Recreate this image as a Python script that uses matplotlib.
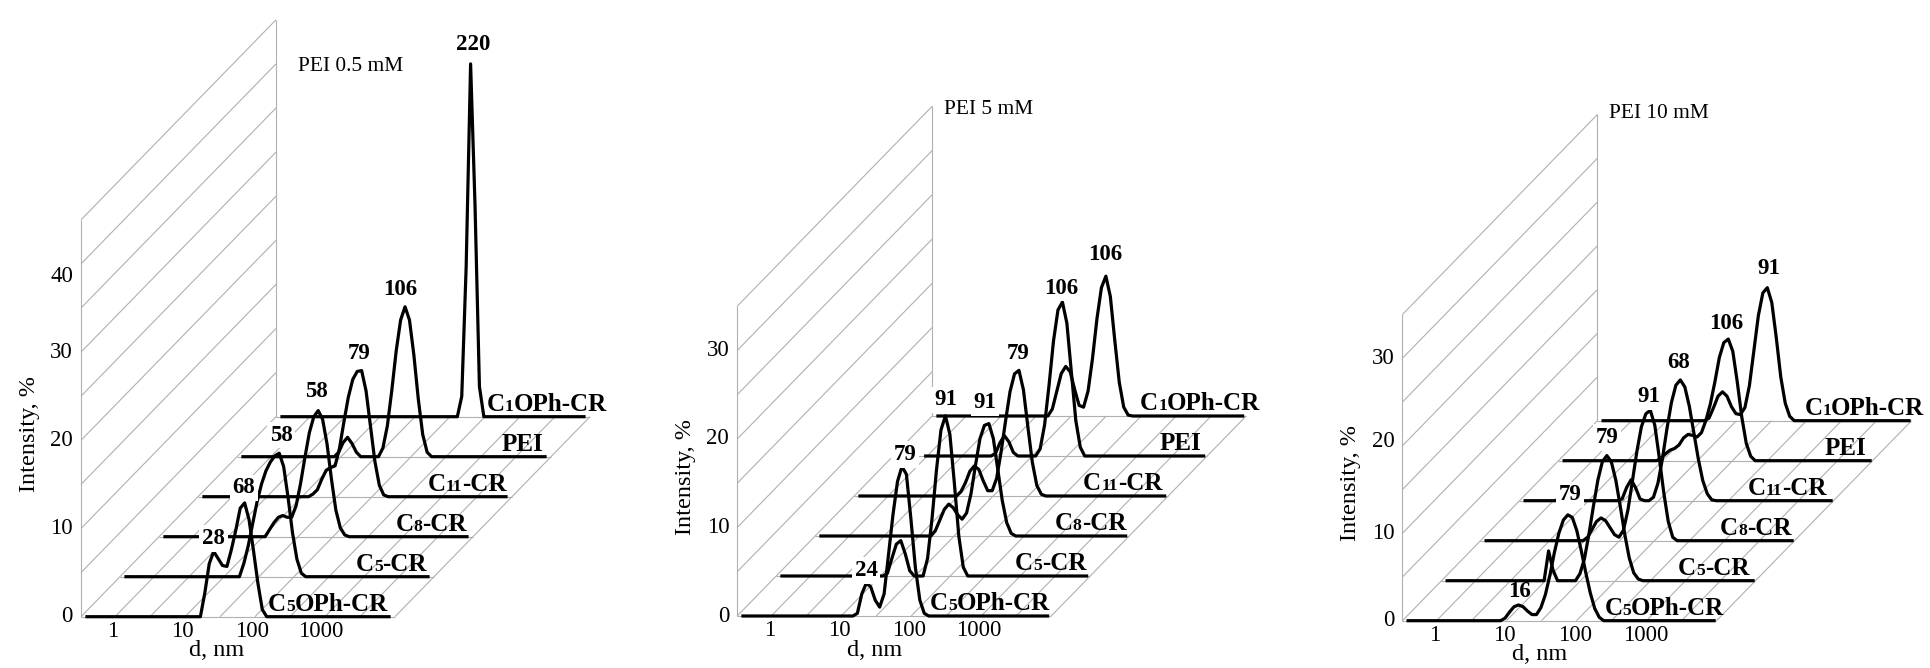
import numpy as np
import matplotlib
matplotlib.use("Agg")
import matplotlib.pyplot as plt
from matplotlib.transforms import offset_copy
from matplotlib.offsetbox import TextArea, HPacker, AnnotationBbox

plt.rcParams['font.family'] = ['Liberation Serif', 'DejaVu Serif']

# ---------------- data ----------------
# size classes (nm) of the distribution (categories of the x axis)
SIZES_NM = [0.4, 0.4632, 0.5365, 0.6213, 0.7195, 0.8332, 0.9649, 1.117, 1.294, 1.499,
            1.736, 2.010, 2.328, 2.696, 3.122, 3.615, 4.187, 4.849, 5.615, 6.503,
            7.531, 8.721, 10.10, 11.70, 13.54, 15.69, 18.17, 21.04, 24.36, 28.21,
            32.67, 37.84, 43.82, 50.75, 58.77, 68.06, 78.82, 91.28, 105.7, 122.4,
            141.8, 164.2, 190.1, 220.2, 255.0, 295.3, 342.0, 396.1, 458.7, 531.2,
            615.1, 712.4, 825.0, 955.4, 1106, 1281, 1484, 1718, 1990, 2305,
            2669, 3091, 3580, 4145, 4801, 5560, 6439, 7456, 8635, 10000]

SERIES = ['C5OPh-CR', 'C5-CR', 'C8-CR', 'C11-CR', 'PEI', 'C1OPh-CR']
# series names split into (text, is_small_digit) pieces
SERIES_PARTS = [[('C', False), ('5', True), ('OPh-CR', False)],
                [('C', False), ('5', True), ('-CR', False)],
                [('C', False), ('8', True), ('-CR', False)],
                [('C', False), ('11', True), ('-CR', False)],
                [('PEI', False)],
                [('C', False), ('1', True), ('OPh-CR', False)]]
PANEL_TITLES = ['PEI 0.5 mM', 'PEI 5 mM', 'PEI 10 mM']
Y_MAX = [45, 35, 35]
Y_TICKS = [[0, 10, 20, 30, 40], [0, 10, 20, 30], [0, 10, 20, 30]]
X_TICKS = [1, 10, 100, 1000]
X_TICK_LABELS = ['1', '10', '100', '1000']
X_TITLE = 'd, nm'
Y_TITLE = 'Intensity, %'

# intensity (%) per size class; each list begins at the class given in *_START
# ---- PEI 0.5 mM
P1_FIRST = [0.4, 0.4, 0.4, 0.4, 0.4, 0.4]
P1_START = [18.17, 18.17, 11.70, 13.54, 8.721, 141.8]
P1_C5OPH = [0, 2.7, 6.0, 7.4, 6.6, 5.8, 5.7, 7.6, 9.8, 12.3, 12.9, 11.0, 7.5, 3.8, 0.8, 0]
P1_C5 = [0, 1.5, 3.5, 6.0, 8.5, 10.5, 12.0, 13.0, 13.7, 14.0, 12.5, 9.0, 5.0, 2.0, 0.4, 0]
P1_C8 = [0, 0.8, 1.6, 2.2, 2.4, 2.2, 2.2, 3.5, 6.0, 9.0, 11.8, 13.6, 14.3, 13.3, 10.5, 6.5,
         3.0, 1.0, 0.2, 0]
P1_C11 = [0, 0.3, 0.8, 2.0, 3.0, 3.3, 3.5, 5.5, 8.5, 11.3, 13.3, 14.2, 14.3, 12.0, 8.0, 4.0,
          1.3, 0.2, 0]
P1_PEI = [0, 0.5, 1.6, 2.2, 1.5, 0.5, 0, 0, 0, 0, 0, 1.0, 3.5, 7.5, 12.0, 15.5, 17.0, 15.5,
          11.5, 6.5, 2.5, 0.5, 0]
P1_C1OPH = [0, 2.3, 17.0, 40.0, 24.0, 3.4, 0]
P1_PEAKS = [('28', 0, 28.21), ('68', 0, 78.82), ('58', 1, 68.06), ('58', 2, 68.06),
            ('79', 3, 78.82), ('106', 4, 91.28), ('220', 5, 220.2)]

# ---- PEI 5 mM
P2_FIRST = [0.4, 0.4, 0.4, 0.4, 0.9649, 0.4]
P2_START = [15.69, 11.70, 15.69, 10.10, 8.721, 15.69]
P2_C5OPH = [0, 0.3, 2.5, 3.7, 3.3, 1.8, 1.0, 2.5, 7.0, 11.5, 15.2, 16.9, 16.0, 11.0, 5.5,
            1.8, 0.3, 0]
P2_C5 = [0, 0.3, 2.0, 3.6, 4.0, 2.5, 0.6, 0, 0, 0, 2.0, 6.5, 12.0, 16.5, 18.1, 16.0, 10.5,
         4.5, 1.0, 0]
P2_C8 = [0, 0.6, 1.8, 3.0, 3.6, 3.2, 2.4, 1.9, 2.6, 4.8, 8.0, 11.0, 12.5, 12.7, 11.0, 7.5,
         4.0, 1.5, 0.3, 0]
P2_C11 = [0, 0.5, 1.5, 2.8, 3.4, 3.0, 1.7, 0.6, 0.6, 2.0, 5.0, 8.5, 11.8, 13.8, 14.2, 12.0,
          7.8, 3.8, 1.2, 0.2, 0]
P2_PEI = [0, 0.3, 1.5, 2.3, 1.6, 0.4, 0, 0, 0, 0, 0, 0.8, 3.5, 8.0, 13.0, 16.5, 17.4, 15.0,
          9.5, 4.0, 1.0, 0]
P2_C1OPH = [0, 0.8, 2.8, 4.8, 5.6, 5.0, 3.0, 1.2, 1.0, 2.8, 6.5, 11.0, 14.5, 15.8, 13.5,
            8.5, 3.8, 1.0, 0.1, 0]
P2_PEAKS = [('24', 0, 24.36), ('79', 0, 78.82), ('91', 1, 91.28), ('91', 2, 105.7),
            ('79', 3, 78.82), ('106', 4, 91.28), ('106', 5, 105.7)]

# ---- PEI 10 mM
P3_FIRST = [0.4, 0.4, 0.4, 0.4, 0.4, 0.4]
P3_START = [8.721, 10.10, 10.10, 8.721, 8.721, 11.70]
P3_C5OPH = [0, 0.3, 1.0, 1.6, 1.8, 1.6, 1.1, 0.7, 0.7, 1.5, 3.0, 5.2, 7.8, 10.0, 11.5, 12.1,
            11.8, 10.3, 8.0, 5.5, 3.2, 1.4, 0.4, 0]
P3_C5 = [0, 3.4, 1.2, 0, 0, 0, 0, 0, 0.8, 2.5, 5.3, 8.5, 11.5, 13.6, 14.3, 13.6, 11.5, 8.5,
         5.3, 2.6, 0.9, 0.2, 0]
P3_C8 = [0, 0.4, 1.3, 2.2, 2.6, 2.3, 1.5, 0.7, 0.4, 1.2, 3.5, 6.8, 10.2, 13.0, 14.5, 14.9,
         13.2, 9.5, 5.5, 2.2, 0.4, 0]
P3_C11 = [0, 0.2, 1.5, 2.4, 1.5, 0.2, 0, 0, 0.4, 2.0, 4.8, 8.2, 11.2, 13.2, 13.8, 13.0, 10.8,
          7.8, 4.8, 2.3, 0.8, 0.1, 0]
P3_PEI = [0, 0.3, 0.8, 1.2, 1.4, 1.8, 2.6, 3.0, 2.9, 2.7, 3.2, 4.6, 6.5, 9.0, 11.8, 13.5,
          13.9, 12.5, 9.0, 5.0, 2.0, 0.5, 0]
P3_C1OPH = [0, 0.3, 1.5, 2.8, 3.3, 2.8, 1.6, 0.8, 0.7, 1.5, 4.0, 8.0, 12.0, 14.6, 15.2, 13.5,
            9.5, 5.0, 2.0, 0.5, 0]
P3_PEAKS = [('16', 0, 15.69), ('79', 0, 78.82), ('79', 1, 78.82), ('91', 2, 91.28),
            ('68', 3, 68.06), ('106', 4, 91.28), ('91', 5, 91.28)]

PANEL_DATA = [
    (P1_FIRST, P1_START, [P1_C5OPH, P1_C5, P1_C8, P1_C11, P1_PEI, P1_C1OPH], P1_PEAKS),
    (P2_FIRST, P2_START, [P2_C5OPH, P2_C5, P2_C8, P2_C11, P2_PEI, P2_C1OPH], P2_PEAKS),
    (P3_FIRST, P3_START, [P3_C5OPH, P3_C5, P3_C8, P3_C11, P3_PEI, P3_C1OPH], P3_PEAKS),
]

# ---------------- layout (pixels) ----------------
W, H = 1931, 668
DX_PX, DY_PX = 39.0, 40.0          # shift per series row (depth)
WALL_PX, EDGE_PX, GRID_PX = -32.0, 282.0, 35.0
LAYOUT = [
    dict(xl=0, xr=640, X0=113.0, Y0=616.7, PPD=69.4, PPU=8.82,
         name_dx=[-7, -7, -6, -5, -8, 17], title_off=(22, -47),
         ytick_dy={40: -13},
         peak_off=[(0, 13), (-1, 15), (2, 18), (-2, 19), (-2, 17), (-5, 17), (3, 19)],
         peak_box=[True] * 7),
    dict(xl=640, xr=1300, X0=769.2, Y0=616.0, PPD=70.0, PPU=8.85,
         name_dx=[-1, -4, -3, -6, -6, 14], title_off=(12, -3),
         ytick_dy={},
         peak_off=[(0, 13), (3, 12), (0, 16), (-4, 21), (-1, 17), (-1, 14), (-1, 22)],
         peak_box=[True] * 7),
    dict(xl=1300, xr=1931, X0=1434.5, Y0=620.7, PPD=70.3, PPU=8.75,
         name_dx=[8, -6, -3, -7, -6, 13], title_off=(12, 1),
         ytick_dy={20: 4},
         peak_off=[(1, 13), (2, 20), (0, 18), (-2, 14), (-2, 17), (-2, 16), (1, 19)],
         peak_box=[False, True, True, True, True, True, True]),
]

GRAY = '#b0b0b0'
NAME_FS, NAME_SMALL_FS = 18, 12.6
fig = plt.figure(figsize=(W / 100, H / 100), dpi=100)
sizes_arr = np.array(SIZES_NM)


def draw_panel(p):
    L = LAYOUT[p]
    first, start, series, peaks = PANEL_DATA[p]
    ax = fig.add_axes([L['xl'] / W, 0, (L['xr'] - L['xl']) / W, 1])
    ax.set_xscale('log')
    ax.set_xlim(10 ** ((L['xl'] - L['X0']) / L['PPD']), 10 ** ((L['xr'] - L['X0']) / L['PPD']))
    ax.set_ylim((L['Y0'] - H) / L['PPU'], L['Y0'] / L['PPU'])
    ax.axis('off')

    def dep(d, v, k):
        return (np.asarray(d) * 10 ** (k * DX_PX / L['PPD']),
                np.asarray(v) + k * DY_PX / L['PPU'])

    def off(dx, dy):
        return offset_copy(ax.transData, fig=fig, x=dx, y=dy, units='dots')

    xw = 10 ** (WALL_PX / L['PPD'])
    xe = 10 ** (EDGE_PX / L['PPD'])
    ymax = Y_MAX[p]
    g = dict(color=GRAY, lw=0.8, zorder=1, solid_capstyle='butt')

    # side wall
    for v in range(0, ymax + 1, 5):
        a, b = dep(xw, v, 0), dep(xw, v, 5)
        ax.plot([a[0], b[0]], [a[1], b[1]], **g)
    ax.plot([xw, xw], [0, ymax], **g)
    bx, by = dep(xw, 0, 5)
    ax.plot([bx, bx], [by, by + ymax], **g)
    # floor
    for k in range(6):
        a, b = dep(xw, 0, k), dep(xe, 0, k)
        ax.plot([a[0], b[0]], [a[1], b[1]], **g)
    for j in range(9):
        xg = 10 ** ((EDGE_PX - j * GRID_PX) / L['PPD'])
        a, b = dep(xg, 0, 0), dep(xg, 0, 5)
        ax.plot([a[0], b[0]], [a[1], b[1]], **g)

    # series
    full_vals = []
    for k, vals in enumerate(series):
        full = np.zeros(len(SIZES_NM))
        i0 = SIZES_NM.index(start[k])
        full[i0:i0 + len(vals)] = vals
        full_vals.append(full)
        i_first = SIZES_NM.index(first[k])
        xs, ys = dep(sizes_arr[i_first:], full[i_first:], k)
        ax.plot(xs, ys, color='black', lw=2.3, solid_joinstyle='round',
                solid_capstyle='butt', zorder=3)
        # series name at the right end of its row
        kids = [TextArea(s, textprops=dict(fontsize=NAME_SMALL_FS if small else NAME_FS,
                                           fontweight='bold', color='black'))
                for s, small in SERIES_PARTS[k]]
        pack = HPacker(children=kids, align='baseline', pad=0, sep=0)
        nx, ny = dep(xe, 0, k)
        ab = AnnotationBbox(pack, (float(nx), float(ny)), xycoords='data',
                            xybox=(L['name_dx'][k] * 0.72, 0.5 * 0.72),
                            boxcoords='offset points', box_alignment=(1, 0),
                            frameon=False, pad=0, annotation_clip=False, zorder=4)
        ax.add_artist(ab)

    # peak labels
    for (txt, k, d), (dx, dy), boxed in zip(peaks, L['peak_off'], L['peak_box']):
        v = full_vals[k][SIZES_NM.index(d)]
        px, py = dep(d, v, k)
        kw = dict(bbox=dict(facecolor='white', edgecolor='none', pad=2.0)) if boxed else {}
        ax.text(px, py, txt, transform=off(dx, dy), ha='center', va='center',
                fontsize=16.5, fontweight='bold', zorder=6, **kw)

    # axis texts
    for v in Y_TICKS[p]:
        ax.text(xw, v, str(v), transform=off(-8, L['ytick_dy'].get(v, 0)),
                ha='right', va='center', fontsize=16.5)
    for d, t in zip(X_TICKS, X_TICK_LABELS):
        ax.text(d, 0, t, transform=off(0, -15), ha='center', va='center', fontsize=16.5)
    ax.text(31.6, 0, X_TITLE, transform=off(0, -34), ha='center', va='center', fontsize=17.5)
    ax.text(xw, ymax / 2 - 1.8, Y_TITLE, transform=off(-52, 0), rotation=90,
            ha='center', va='center', fontsize=17.5)
    tx, ty = dep(xw, ymax, 5)
    ax.text(tx, ty, PANEL_TITLES[p], transform=off(*L['title_off']),
            ha='left', va='center', fontsize=15.4)


for p in range(3):
    draw_panel(p)

fig.savefig('out.png', dpi=100, facecolor='white')
